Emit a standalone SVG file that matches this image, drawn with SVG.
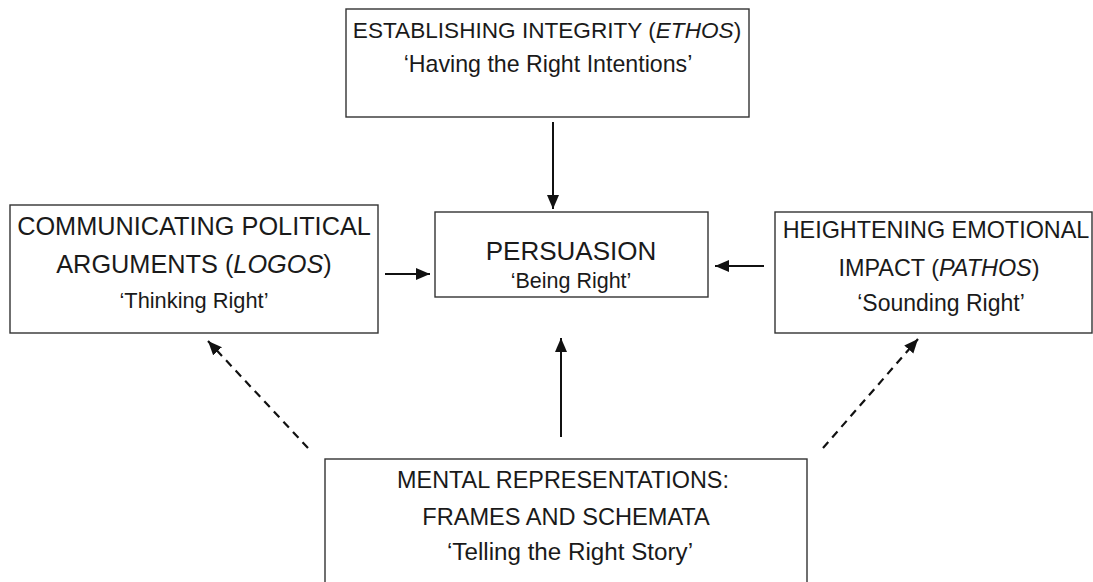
<svg xmlns="http://www.w3.org/2000/svg" width="1093" height="582" viewBox="0 0 1093 582">
<style>
.box{fill:#fff;stroke:#333;stroke-width:1.4}
.t{font-family:"Liberation Sans",Arial,Helvetica,sans-serif;fill:#1a1a1a;text-anchor:middle}
.c{stroke:#111;stroke-width:2;fill:none}
.d{stroke:#111;stroke-width:2.2;fill:none;stroke-dasharray:8 6}
</style>
<defs>
<marker id="ah" markerUnits="userSpaceOnUse" markerWidth="16" markerHeight="14" refX="14" refY="6" orient="auto">
<path d="M0,0 L14,6 L0,12 z" fill="#111"/>
</marker>
</defs>
<rect width="1093" height="582" fill="#fff"/>
<g id="ethos">
<rect class="box" x="346" y="9" width="403" height="108"/>
<text class="t" x="547" y="38" font-size="22.6">ESTABLISHING INTEGRITY (<tspan font-style="italic">ETHOS</tspan>)</text>
<text class="t" x="548" y="72" font-size="23.2">‘Having the Right Intentions’</text>
</g>
<g id="logos">
<rect class="box" x="10" y="205" width="368" height="128"/>
<text class="t" x="194" y="235" font-size="25.3">COMMUNICATING POLITICAL</text>
<text class="t" x="194" y="273" font-size="25.3">ARGUMENTS (<tspan font-style="italic">LOGOS</tspan>)</text>
<text class="t" x="194" y="308" font-size="21.8">‘Thinking Right’</text>
</g>
<g id="persuasion">
<rect class="box" x="435" y="212" width="273" height="85"/>
<text class="t" x="571" y="260" font-size="26">PERSUASION</text>
<text class="t" x="571" y="288" font-size="21.5">‘Being Right’</text>
</g>
<g id="pathos">
<rect class="box" x="775" y="212" width="317" height="121"/>
<text class="t" x="936" y="238" font-size="23.4">HEIGHTENING EMOTIONAL</text>
<text class="t" x="939" y="276" font-size="23.4">IMPACT (<tspan font-style="italic">PATHOS</tspan>)</text>
<text class="t" x="941" y="311" font-size="23">‘Sounding Right’</text>
</g>
<g id="frames">
<rect class="box" x="325" y="459" width="482" height="140"/>
<text class="t" x="563" y="488" font-size="23.4">MENTAL REPRESENTATIONS:</text>
<text class="t" x="566" y="525" font-size="23.6">FRAMES AND SCHEMATA</text>
<text class="t" x="570" y="560" font-size="24.2">‘Telling the Right Story’</text>
</g>
<g id="connectors">
<line class="c" x1="553" y1="122" x2="553" y2="209" marker-end="url(#ah)"/>
<line class="c" x1="385" y1="274" x2="430" y2="274" marker-end="url(#ah)"/>
<line class="c" x1="764" y1="266" x2="715" y2="266" marker-end="url(#ah)"/>
<line class="c" x1="561" y1="437" x2="561" y2="338" marker-end="url(#ah)"/>
<line class="d" x1="308" y1="448" x2="208" y2="341" marker-end="url(#ah)"/>
<line class="d" x1="823" y1="448" x2="918" y2="339" marker-end="url(#ah)"/>
</g>
</svg>
